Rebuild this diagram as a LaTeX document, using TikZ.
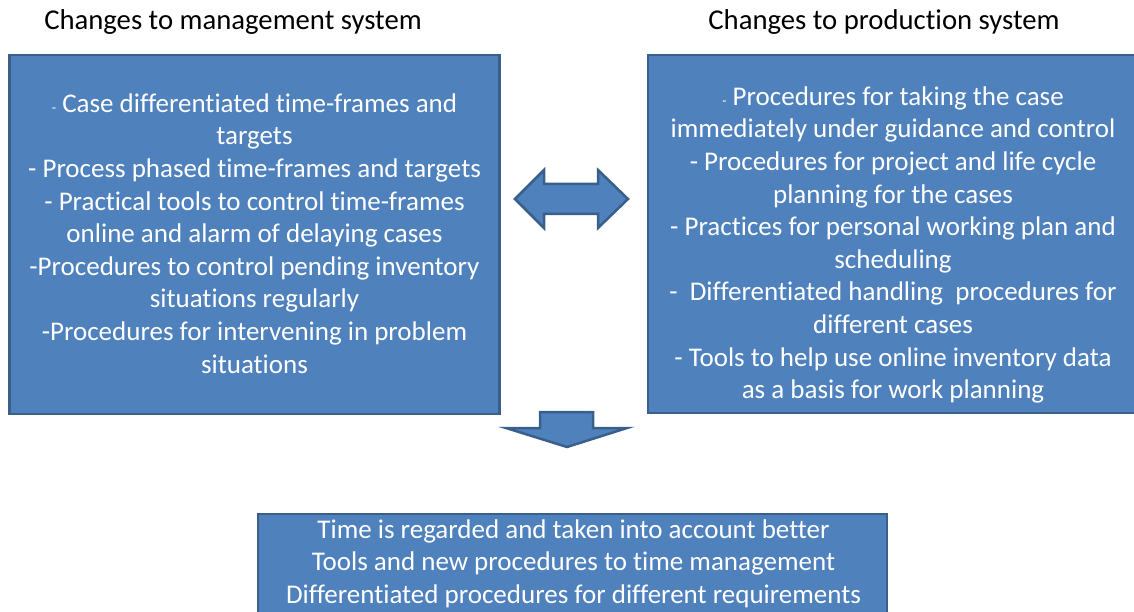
\documentclass[tikz,border=0pt]{standalone}
\usepackage{fontspec}
\setmainfont{Carlito}[Ligatures=NoCommon]
\definecolor{boxfill}{HTML}{4F81BD}
\definecolor{boxline}{HTML}{3A5F8B}
\begin{document}
\begin{tikzpicture}[x=1pt,y=-1pt,
  panel/.style={draw=boxline, line width=2.5pt, fill=boxfill, inner sep=0pt},
  body/.style={text=white, align=center, font=\fontsize{27}{32.6}\selectfont},
  heading/.style={font=\fontsize{28.7}{32}\selectfont, text=black},
  blockarrow/.style={draw=boxline, line width=2.5pt, fill=boxfill, line join=miter}]
\useasboundingbox (0,0) rectangle (1134,612);
\clip (0,0) rectangle (1134,612);

% headings
\node[heading] (hl) at (233,22) {Changes to management system};
\node[heading] (hr) at (884,22) {Changes to production system};

% panels
\node[panel, minimum width=490pt, minimum height=359pt] (mgmt) at (254.5,234.5) {};
\node[panel, minimum width=490pt, minimum height=358pt] (prod) at (893,234) {};
\node[panel, minimum width=629pt, minimum height=140pt] (result) at (572.5,584) {};

% panel texts
\node[body] (mgmttext) at (254.5,233.5) {{\fontsize{14}{14}\selectfont -} Case differentiated time-frames and\\
targets\\
- Process phased time-frames and targets\\
- Practical tools to control time-frames\\
online and alarm of delaying cases\\
-Procedures to control pending inventory\\
situations regularly\\
-Procedures for intervening in problem\\
situations};

\node[body] (prodtext) at (893,245) {{\fontsize{14}{14}\selectfont -} Procedures for taking the case\\
immediately under guidance and control\\
- Procedures for project and life cycle\\
planning for the cases\\
- Practices for personal working plan and\\
scheduling\\
-\ \ Differentiated handling\ \ procedures for\\
different cases\\
- Tools to help use online inventory data\\
as a basis for work planning};

\node[body] (resulttext) at (573.5,563.5) {Time is regarded and taken into account better\\
Tools and new procedures to time management\\
Differentiated procedures for different requirements};

% two-way block arrow between the panels
\coordinate (dbl) at (571.5,199);
\draw[blockarrow] (515,199) -- (544,170) -- (544,184) -- (598,184) -- (598,170)
  -- (628,199) -- (598,228) -- (598,214) -- (544,214) -- (544,228) -- cycle;

% downward block arrow to the result panel
\coordinate (down) at (567,430);
\draw[blockarrow] (540,412) -- (593,412) -- (593,428) -- (627,428) -- (567,447)
  -- (506,428) -- (540,428) -- cycle;
\end{tikzpicture}
\end{document}
